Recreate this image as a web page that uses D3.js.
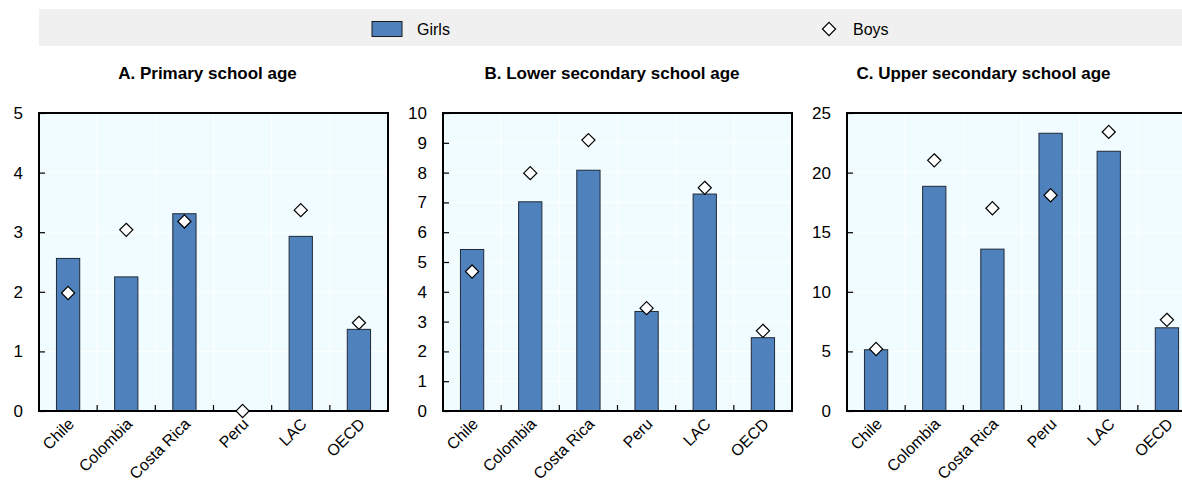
<!DOCTYPE html>
<html>
<head>
<meta charset="utf-8">
<script src="https://cdn.jsdelivr.net/npm/d3@7"></script>
<style>
  html, body { margin: 0; padding: 0; background: #fff; }
  svg { display: block; }
  text { font-family: "Liberation Sans", Arial, Helvetica, sans-serif; fill: #000; }
</style>
</head>
<body>
<svg id="chart" width="1182" height="481"></svg>
<script>
// Categories shared by all three panels
const countries = ["Chile", "Colombia", "Costa Rica", "Peru", "LAC", "OECD"];

// Panel titles and y-axis maxima / ticks
const panelTitles = ["A. Primary school age", "B. Lower secondary school age", "C. Upper secondary school age"];
const yMax = [5, 10, 25];
const yTicks = [
  [0, 1, 2, 3, 4, 5],
  [0, 1, 2, 3, 4, 5, 6, 7, 8, 9, 10],
  [0, 5, 10, 15, 20, 25]
];

// Girls (bars)
const girlsPrimary = [2.56, 2.25, 3.31, 0, 2.93, 1.37];
const girlsLowerSec = [5.42, 7.02, 8.08, 3.34, 7.28, 2.46];
const girlsUpperSec = [5.14, 18.85, 13.58, 23.3, 21.79, 6.98];

// Boys (diamonds)
const boysPrimary = [1.98, 3.04, 3.18, 0, 3.37, 1.48];
const boysLowerSec = [4.68, 7.98, 9.09, 3.45, 7.49, 2.69];
const boysUpperSec = [5.2, 21.03, 17.01, 18.1, 23.41, 7.65];

const girlsSeries = [girlsPrimary, girlsLowerSec, girlsUpperSec];
const boysSeries = [boysPrimary, boysLowerSec, boysUpperSec];

const barColor = "#4f81bd";
const plotBg = "#f0fcff";
const fontStack = "'Liberation Sans', Arial, Helvetica, sans-serif";

const svg = d3.select("#chart");

// Legend band
const legend = svg.append("g");
legend.append("rect").attr("x", 39).attr("y", 9).attr("width", 1143).attr("height", 37).attr("fill", "#f0f0f0");
legend.append("rect").attr("x", 372).attr("y", 21.5).attr("width", 30).attr("height", 15)
  .attr("fill", barColor).attr("stroke", "#1a1a1a").attr("stroke-width", 1);
legend.append("text").attr("x", 417).attr("y", 35).attr("font-size", 16).text("Girls");
const diamond = d3.symbol().type(d3.symbolDiamond2).size(110);
legend.append("path").attr("d", diamond).attr("transform", "translate(829,29)")
  .attr("fill", "#fff").attr("stroke", "#000").attr("stroke-width", 1.2);
legend.append("text").attr("x", 853).attr("y", 35).attr("font-size", 16).text("Boys");

// Panel layout
const panelLeft = [39, 443, 847];
const panelWidth = 349;
const titleCenter = [207.5, 612, 983.5];
const plotTop = 113, plotBottom = 411;

panelLeft.forEach((x0, p) => {
  const g = svg.append("g");
  const x = d3.scaleBand().domain(countries).range([x0, x0 + panelWidth]).paddingInner(0.6).paddingOuter(0.3);
  const y = d3.scaleLinear().domain([0, yMax[p]]).range([plotBottom, plotTop]);
  const step = x.step();

  // Title
  g.append("text").attr("x", titleCenter[p]).attr("y", 79)
    .attr("text-anchor", "middle").attr("font-size", 17).attr("font-weight", "bold")
    .text(panelTitles[p]);

  // Plot background
  g.append("rect").attr("x", x0).attr("y", plotTop).attr("width", panelWidth).attr("height", plotBottom - plotTop)
    .attr("fill", plotBg);

  // Gridlines
  g.selectAll(".hgrid").data(yTicks[p].slice(1, -1)).join("line")
    .attr("x1", x0).attr("x2", x0 + panelWidth)
    .attr("y1", d => y(d)).attr("y2", d => y(d))
    .attr("stroke", "#fff").attr("stroke-width", 1);
  const bounds = d3.range(1, countries.length).map(i => x0 + step * i);
  g.selectAll(".vgrid").data(bounds).join("line")
    .attr("x1", d => d).attr("x2", d => d).attr("y1", plotTop).attr("y2", plotBottom)
    .attr("stroke", "#fff").attr("stroke-width", 1);

  // Bars (girls)
  g.selectAll(".bar").data(countries).join("rect")
    .attr("x", d => x(d)).attr("width", x.bandwidth())
    .attr("y", (d, i) => y(girlsSeries[p][i]))
    .attr("height", (d, i) => plotBottom - y(girlsSeries[p][i]))
    .attr("fill", barColor).attr("stroke", "#1f2a36").attr("stroke-width", 1)
    .style("display", (d, i) => girlsSeries[p][i] > 0 ? null : "none");

  // Frame
  g.append("rect").attr("x", x0).attr("y", plotTop).attr("width", panelWidth).attr("height", plotBottom - plotTop)
    .attr("fill", "none").attr("stroke", "#000").attr("stroke-width", 2);

  // Category boundary ticks on the x axis
  g.selectAll(".xtick").data(bounds).join("line")
    .attr("x1", d => d).attr("x2", d => d).attr("y1", plotBottom).attr("y2", plotBottom - 6)
    .attr("stroke", "#000").attr("stroke-width", 1.2);

  // Y axis
  const yAxis = d3.axisLeft(y).tickValues(yTicks[p]).tickFormat(d3.format("d"))
    .tickSizeInner(-6).tickSizeOuter(0).tickPadding(16);
  const ya = g.append("g").attr("transform", `translate(${x0},0)`).call(yAxis);
  ya.select(".domain").remove();
  ya.selectAll("line").attr("stroke", "#000").attr("stroke-width", 1.2);
  ya.selectAll("text").attr("font-size", 17).attr("fill", "#000").style("font-family", fontStack);

  // X axis labels, rotated
  const xAxis = d3.axisBottom(x).tickSize(0).tickPadding(0);
  const xa = g.append("g").attr("transform", `translate(0,${plotBottom})`).call(xAxis);
  xa.select(".domain").remove();
  xa.selectAll("text")
    .attr("font-size", 16).attr("fill", "#000").style("font-family", fontStack)
    .attr("text-anchor", "end").attr("dy", null).attr("y", 0)
    .attr("transform", "translate(7,14) rotate(-45)");

  // Diamonds (boys)
  g.selectAll(".boy").data(countries).join("path")
    .attr("d", diamond)
    .attr("transform", (d, i) => `translate(${x(d) + x.bandwidth() / 2},${y(boysSeries[p][i])})`)
    .attr("fill", "#fff").attr("stroke", "#000").attr("stroke-width", 1.2);
});
</script>
</body>
</html>
